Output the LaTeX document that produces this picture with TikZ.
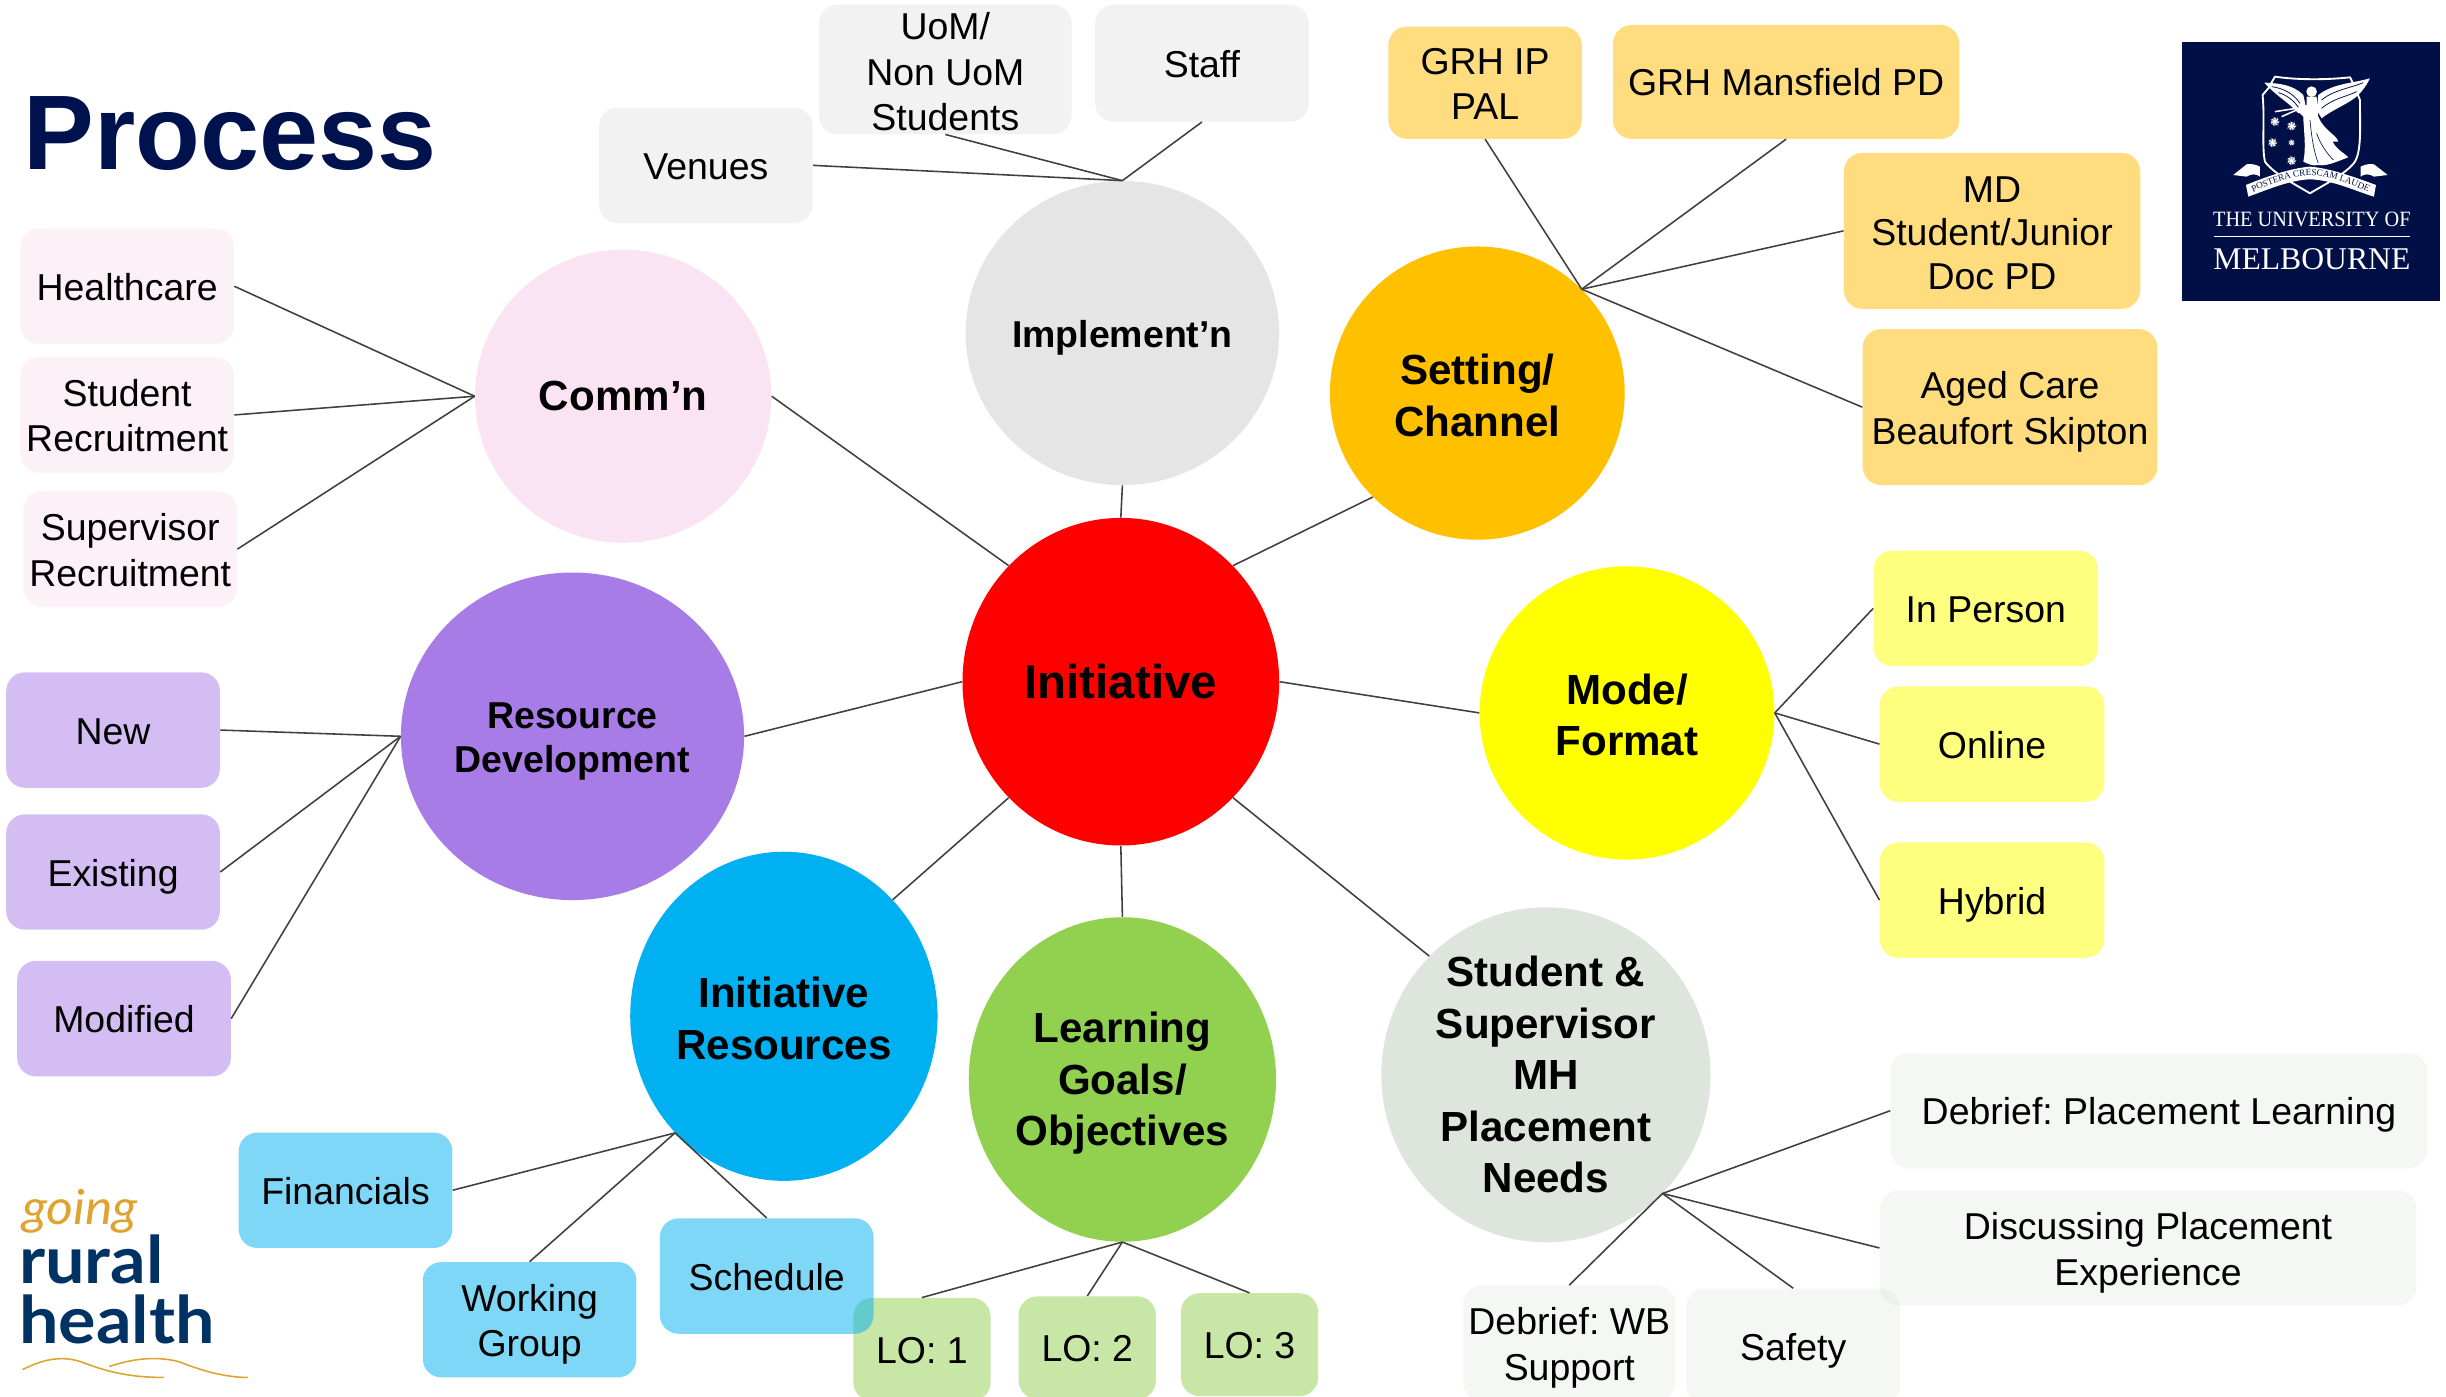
\documentclass[tikz,border=0pt]{standalone}
\usepackage{fontspec}
\setmainfont{Liberation Sans}
\newfontfamily\serifcrest{Liberation Serif}
\newfontfamily\serifnarrow[FakeStretch=0.93]{Liberation Serif}
\newfontfamily\logofont[FakeStretch=1.07]{Lato}
\usetikzlibrary{shapes.geometric,decorations.text}
\frenchspacing
\definecolor{lineC}{HTML}{404040}
\definecolor{navyM}{HTML}{000F46}
\definecolor{titleC}{HTML}{00124D}
\definecolor{goldL}{HTML}{DFA32F}
\definecolor{navyL}{HTML}{003263}
\definecolor{pinkL}{HTML}{FDF1F8}
\definecolor{commC}{HTML}{FAE3F2}
\definecolor{greyL}{HTML}{F2F2F2}
\definecolor{goldB}{HTML}{FFDD7F}
\definecolor{yelB}{HTML}{FFFF7F}
\definecolor{yelH}{HTML}{FFFF00}
\definecolor{goldH}{HTML}{FFC000}
\definecolor{paleH}{HTML}{DDE5DD}
\definecolor{loH}{HTML}{92D050}
\definecolor{blueH}{HTML}{00B0F0}
\definecolor{purpH}{HTML}{A87CE6}
\definecolor{purpB}{HTML}{D3BDF2}
\tikzset{
  x=1pt,y=-1pt,
  hub/.style={ellipse,inner sep=0pt,align=center,font=\bfseries\fontsize{27}{33}\selectfont},
  hubsm/.style={hub,font=\bfseries\fontsize{24}{28}\selectfont},
  hubtwo/.style={text height=60pt,text depth=5pt},
  leaf/.style={rounded corners=12pt,inner sep=0pt,align=center,minimum width=137pt,minimum height=74pt,font=\fontsize{24}{29}\selectfont,text height=23pt,text depth=5pt},
  leaftwo/.style={text height=52.5pt,text depth=5pt},
  leafthree/.style={text height=80pt,text depth=5pt,font=\fontsize{24}{28}\selectfont},
  link/.style={draw=lineC,line width=1pt},
  pinkbox/.style={leaf,fill=pinkL},
  greybox/.style={leaf,fill=greyL},
  goldbox/.style={leaf,fill=goldB},
  yelbox/.style={leaf,fill=yelB},
  palebox/.style={leaf,fill=paleH,fill opacity=0.3,text opacity=1},
  lobox/.style={leaf,fill=loH,fill opacity=0.5,text opacity=1,minimum height=66pt},
  bluebox/.style={leaf,fill=blueH,fill opacity=0.5,text opacity=1},
  purpbox/.style={leaf,fill=purpB},
}
\begin{document}
\begin{tikzpicture}
\useasboundingbox (0,0) rectangle (1568,895.5);
\fill[white] (0,0) rectangle (1568,895.5);

% hubs
\node[hub,fill=red,minimum width=203pt,minimum height=210pt,font=\bfseries\fontsize{30.4}{36}\selectfont] (init) at (718.5,437) {Initiative};
\node[hubsm,fill=black!10,minimum width=201pt,minimum height=195pt,text height=23pt,text depth=5pt] (impl) at (719.5,213.5) {Implement’n};
\node[hub,fill=commC,minimum width=190pt,minimum height=188pt] (comm) at (399.5,254) {Comm’n};
\node[hub,hubtwo,fill=goldH,minimum width=189pt,minimum height=188pt] (sett) at (947,252) {Setting/\\Channel};
\node[hub,hubtwo,fill=yelH,minimum width=189pt,minimum height=188pt] (mode) at (1043,457) {Mode/\\Format};
\node[hub,fill=paleH,minimum width=211pt,minimum height=212pt] (need) at (991,689) {Student \&\\Supervisor\\MH\\Placement\\Needs};
\node[hub,fill=loH,minimum width=197pt,minimum height=208pt,text height=90pt,text depth=5pt] (goal) at (719.5,692) {Learning\\Goals/\\Objectives};
\node[hub,hubtwo,fill=blueH,minimum width=197pt,minimum height=211pt] (ires) at (502.5,651.5) {Initiative\\Resources};
\node[hubsm,fill=purpH,minimum width=220pt,minimum height=210pt,text height=51.4pt,text depth=5pt] (rdev) at (367,472) {Resource\\Development};

% leaves
\node[pinkbox] (hc) at (81.5,183.5) {Healthcare};
\node[pinkbox,leaftwo] (sr) at (81.5,266) {Student\\Recruitment};
\node[pinkbox,leaftwo] (su) at (83.5,352) {Supervisor\\Recruitment};
\node[greybox] (ve) at (452.5,106) {Venues};
\node[greybox,minimum width=162pt,minimum height=83pt,text height=78pt,text depth=0pt] (uo) at (606,44.5) {UoM/\\Non UoM\\Students};
\node[greybox,minimum height=75pt] (st) at (770.5,40.5) {Staff};
\node[goldbox,leaftwo,minimum width=124pt,minimum height=72pt] (gi) at (952,53) {GRH IP\\PAL};
\node[goldbox,minimum width=222pt,minimum height=73pt] (gm) at (1145,52.5) {GRH Mansfield PD};
\node[goldbox,leafthree,minimum width=190pt,minimum height=100pt] (md) at (1277,148) {MD\\Student/Junior\\Doc PD};
\node[goldbox,leaftwo,minimum width=189pt,minimum height=100pt] (ac) at (1288.5,261) {Aged Care\\Beaufort Skipton};
\node[yelbox,minimum width=144pt] (ip) at (1273,390) {In Person};
\node[yelbox,minimum width=144pt] (on) at (1277,477) {Online};
\node[yelbox,minimum width=144pt] (hy) at (1277,577) {Hybrid};
\node[palebox,minimum width=344pt] (dp) at (1384,712) {Debrief: Placement Learning};
\node[palebox] (sa) at (1149.5,863) {Safety};
\node[palebox,leaftwo,minimum width=344pt] (dc) at (1377,800) {Discussing Placement\\Experience};
\node[palebox,leaftwo,minimum width=136pt] (db) at (1006,861) {Debrief: WB\\Support};
\node[lobox,minimum width=88pt] (l1) at (591,865) {LO: 1};
\node[lobox,minimum width=88pt] (l2) at (697,864) {LO: 2};
\node[lobox,minimum width=88pt] (l3) at (801,862) {LO: 3};
\node[bluebox] (sc) at (491.5,818) {Schedule};
\node[bluebox,leaftwo] (wg) at (339.5,846) {Working\\Group};
\node[bluebox] (fi) at (221.5,763) {Financials};
\node[purpbox] (mo) at (79.5,653) {Modified};
\node[purpbox] (ex) at (72.5,559) {Existing};
\node[purpbox] (ne) at (72.5,468) {New};

% hub-to-hub connectors
\draw[link] (init.north) -- (impl.south);
\draw[link] (init.north east) -- (sett.south west);
\draw[link] (init.east) -- (mode.west);
\draw[link] (init.south east) -- (need.north west);
\draw[link] (init.south) -- (goal.north);
\draw[link] (init.south west) -- (ires.north east);
\draw[link] (init.west) -- (rdev.east);
\draw[link] (init.north west) -- (comm.east);
% hub-to-leaf connectors
\draw[link] (comm.west) -- (hc.east);
\draw[link] (comm.west) -- (sr.east);
\draw[link] (comm.west) -- (su.east);
\draw[link] (impl.north) -- (ve.east);
\draw[link] (impl.north) -- (uo.south);
\draw[link] (impl.north) -- (st.south);
\draw[link] (sett.north east) -- (gi.south);
\draw[link] (sett.north east) -- (gm.south);
\draw[link] (sett.north east) -- (md.west);
\draw[link] (sett.north east) -- (ac.west);
\draw[link] (mode.east) -- (ip.west);
\draw[link] (mode.east) -- (on.west);
\draw[link] (mode.east) -- (hy.west);
\draw[link] (need.south east) -- (dp.west);
\draw[link] (need.south east) -- (dc.west);
\draw[link] (need.south east) -- (sa.north);
\draw[link] (need.south east) -- (db.north);
\draw[link] (goal.south) -- (l1.north);
\draw[link] (goal.south) -- (l2.north);
\draw[link] (goal.south) -- (l3.north);
\draw[link] (ires.south west) -- (fi.east);
\draw[link] (ires.south west) -- (wg.north);
\draw[link] (ires.south west) -- (sc.north);
\draw[link] (rdev.west) -- (ne.east);
\draw[link] (rdev.west) -- (ex.east);
\draw[link] (rdev.west) -- (mo.east);

% title
\node[anchor=base west,inner sep=0pt,text=titleC,font=\bfseries\fontsize{68}{72}\selectfont] (title) at (15,108.5) {Process};

% University of Melbourne logo
\fill[navyM] (1399,27) rectangle (1564,193);
\begin{scope}[shift={(1378.2,12.8)},x=0.2137pt,y=-0.2137pt]
  % shield
  \draw[white,line width=1.2pt,line join=round] (338,225) -- (355,205) -- (375,170) .. controls (440,180) and (530,180) .. (600,172) -- (612,195) -- (630,240) .. controls (630,320) and (635,390) .. (615,425) .. controls (590,460) and (530,490) .. (480,520) .. controls (430,490) and (370,460) .. (345,425) .. controls (335,380) and (345,300) .. cycle;
  % wings
  \fill[white] (343,188) .. controls (390,190) and (430,195) .. (460,225) -- (470,270) -- (445,280) .. controls (420,250) and (375,225) .. (343,188);
  \fill[white] (660,175) .. controls (610,190) and (550,190) .. (505,225) -- (500,270) -- (515,295) .. controls (545,270) and (600,250) .. (625,225) .. controls (640,210) and (650,195) .. (660,175);
  \draw[navyM,line width=0.5pt] (365,200) .. controls (400,205) and (430,220) .. (450,250);
  \draw[navyM,line width=0.5pt] (385,218) .. controls (410,225) and (430,240) .. (445,262);
  \draw[navyM,line width=0.5pt] (640,188) .. controls (600,205) and (550,210) .. (515,240);
  \draw[navyM,line width=0.5pt] (620,215) .. controls (590,230) and (550,235) .. (515,265);
  % figure
  \fill[white] (485,215) circle (16);
  \fill[white] (470,230) -- (500,230) -- (505,290) .. controls (520,330) and (560,345) .. (565,365) -- (548,365) .. controls (560,390) and (585,400) .. (595,412) .. controls (560,425) and (530,440) .. (505,435) .. controls (490,440) and (470,430) .. (460,425) .. controls (470,380) and (460,320) .. (460,290) -- (440,270) -- (470,255) -- cycle;
  \draw[navyM,line width=0.4pt] (480,300) .. controls (485,350) and (490,390) .. (505,430);
  \draw[navyM,line width=0.4pt] (500,340) .. controls (510,370) and (530,400) .. (550,420);
  % branch
  \draw[white,line width=1pt] (440,265) -- (375,275);
  \draw[white,line width=1pt] (440,270) -- (395,290);
  % stars
  \foreach \sx/\sy/\sr in {375/305/13,425/318/13,368/368/13,425/368/9,425/422/13}{
    \fill[white] (\sx,\sy) circle (\sr*0.45);
    \foreach \a in {0,51.4,102.8,154.2,205.6,257,308.4}{
      \fill[white] (\sx,\sy) -- ++(\a-15:\sr*0.45) -- ++(\a:\sr*0.8) -- cycle;
      \fill[white] (\sx,\sy) -- ++({\a}:\sr) -- ++({\a+120}:\sr*0.5) -- cycle;
    }
  }
  % ribbon
  \fill[white] (250,465) -- (290,433) .. controls (305,430) and (320,435) .. (330,440) -- (330,470) .. controls (320,462) and (305,460) .. (290,470) -- cycle;
  \fill[white] (713,465) -- (672,433) .. controls (657,430) and (642,435) .. (632,440) -- (632,470) .. controls (642,462) and (657,460) .. (672,470) -- cycle;
  \fill[white] (288,495) .. controls (350,470) and (420,445) .. (480,440) .. controls (540,445) and (610,470) .. (678,495) -- (672,530) .. controls (620,515) and (550,480) .. (480,478) .. controls (420,480) and (350,510) .. (295,530) -- cycle;
  \path[postaction={decorate,decoration={text along path,text align=center,text={|\serifcrest\fontsize{5.9}{7}\selectfont\color{navyM}|POSTERA CRESCAM LAUDE}}}] (296,522) .. controls (350,498) and (420,468) .. (480,466) .. controls (545,468) and (610,498) .. (668,522);
\end{scope}
\node[anchor=base,inner sep=0pt,text=white,font=\serifnarrow\fontsize{14}{16}\selectfont] (uni1) at (1482,145.3) {THE UNIVERSITY OF};
\draw[white,line width=0.4pt] (1419,151.7) -- (1545,151.7);
\node[anchor=base,inner sep=0pt,text=white,font=\serifcrest\fontsize{20.3}{22}\selectfont] (uni2) at (1482,173) {MELBOURNE};

% going rural health logo
\node[anchor=base west,inner sep=0pt,text=goldL,font=\logofont\itshape\fontsize{31}{33}\selectfont] (lg1) at (14,785) {going};
\node[anchor=base west,inner sep=0pt,text=navyL,font=\logofont\bfseries\fontsize{42}{44}\selectfont] (lg2) at (12,823) {rural};
\node[anchor=base west,inner sep=0pt,text=navyL,font=\logofont\bfseries\fontsize{42}{44}\selectfont] (lg3) at (12,861) {health};
\draw[goldL,line width=1pt] (14.5,878) .. controls (28,871) and (40,869) .. (52,873) .. controls (70,880) and (85,883) .. (105,883);
\draw[goldL,line width=1pt] (70,876) .. controls (85,871) and (100,869) .. (115,873) .. controls (130,879) and (145,883) .. (159,883);
\end{tikzpicture}
\end{document}
